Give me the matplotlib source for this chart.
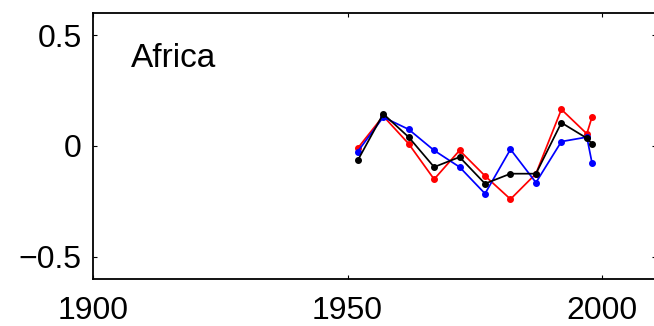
import matplotlib

matplotlib.use("Agg")
import matplotlib.pyplot as plt

plt.rcParams["font.family"] = ["Liberation Sans", "DejaVu Sans"]

# pentad years and anomaly series
years = [1952, 1957, 1962, 1967, 1972, 1977, 1982, 1987, 1992, 1997, 1998]
red_vals = [-0.01, 0.135, 0.01, -0.15, -0.02, -0.135, -0.24, -0.125, 0.165, 0.055, 0.13]
blue_vals = [-0.025, 0.13, 0.075, -0.02, -0.095, -0.215, -0.015, -0.165, 0.02, 0.04, -0.075]
black_vals = [-0.065, 0.145, 0.04, -0.095, -0.05, -0.17, -0.125, -0.125, 0.105, 0.035, 0.01]

x_ticks = [1900, 1950, 2000]
y_ticks = [-0.5, 0, 0.5]
y_ticklabels = ["\u22120.5", "0", "0.5"]
region = "Africa"

fig = plt.figure(figsize=(6.54, 3.26), dpi=100)
ax = fig.add_axes([0.1422, 0.1442, 0.861, 0.816])

for vals, color in ((red_vals, "#ff0000"), (blue_vals, "#0000ff"), (black_vals, "#000000")):
    ax.plot(years, vals, "-o", color=color, lw=1.25, ms=4.0)

ax.set_xlim(1900, 2010.6)
ax.set_ylim(-0.6, 0.6)
ax.set_xticks(x_ticks)
ax.set_yticks(y_ticks)
ax.set_yticklabels(y_ticklabels)
ax.tick_params(direction="in", length=3, width=0.8, labelsize=23,
               top=True, right=True)
ax.tick_params(axis="x", pad=12)
ax.tick_params(axis="y", pad=8)
for sp in ax.spines.values():
    sp.set_linewidth(1.3)

ax.text(0.068, 0.797, region, transform=ax.transAxes, fontsize=24,
        ha="left", va="baseline")

fig.savefig("out.png", dpi=100)
